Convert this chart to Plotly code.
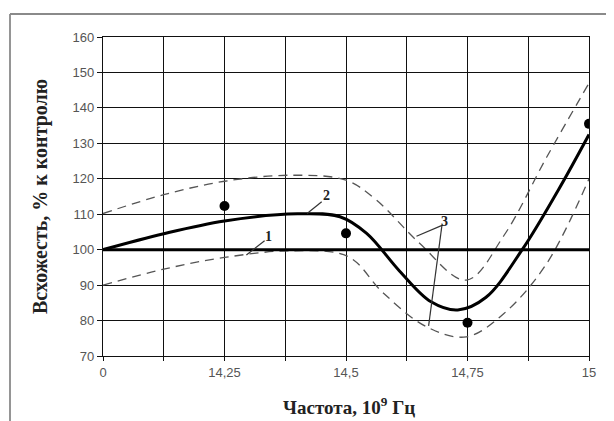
import plotly.graph_objects as go

# x positions are index units: 0 -> "0", 1 -> "14,25", 2 -> "14,5", 3 -> "14,75", 4 -> "15"
tick_vals = [0, 0.5, 1, 1.5, 2, 2.5, 3, 3.5, 4]
tick_text = ["0", "", "14,25", "", "14,5", "", "14,75", "", "15"]

# line 1: control
control_x = [0, 4]
control_y = [100, 100]

# line 2: fitted curve
curve_x = [0, 0.5, 1.0, 1.6, 1.95, 2.17, 2.44, 2.7, 2.92, 3.15, 3.45, 3.75, 4.0]
curve_y = [100, 104.5, 108.1, 110.1, 109.3, 104.6, 94.0, 85.3, 83.0, 86.5, 100, 117, 132.5]

# lines 3: confidence band
upper_x = [0, 0.5, 1.0, 1.55, 2.0, 2.25, 2.6, 2.99, 3.3, 3.65, 4.0]
upper_y = [110.2, 115.5, 119.3, 121, 119.6, 114, 102, 91.4, 104, 126, 147]
lower_x = [0, 0.5, 1.0, 1.56, 2.02, 2.3, 2.66, 2.99, 3.3, 3.65, 4.0]
lower_y = [90, 94.5, 97.8, 99.7, 98, 88, 78.3, 75.4, 82, 96, 120]

# experimental points
points_x = [1, 2, 3, 4]
points_y = [112.3, 104.6, 79.4, 135.5]

fig = go.Figure()
fig.add_trace(go.Scatter(x=upper_x, y=upper_y, mode="lines", line_shape="spline",
                         line=dict(color="#555555", width=1.3, dash="9px,6px"), showlegend=False))
fig.add_trace(go.Scatter(x=lower_x, y=lower_y, mode="lines", line_shape="spline",
                         line=dict(color="#555555", width=1.3, dash="9px,6px"), showlegend=False))
fig.add_trace(go.Scatter(x=control_x, y=control_y, mode="lines",
                         line=dict(color="black", width=3), showlegend=False))
fig.add_trace(go.Scatter(x=curve_x, y=curve_y, mode="lines", line_shape="spline",
                         line=dict(color="black", width=3), showlegend=False))
fig.add_trace(go.Scatter(x=points_x, y=points_y, mode="markers", cliponaxis=True,
                         marker=dict(color="black", size=10, symbol="circle",
                                     line=dict(width=0)), showlegend=False))

# label leaders
leader_color = "#333333"
leaders = [
    ((1.18, 98.5), (1.33, 102.5)),
    ((1.68, 110.2), (1.80, 113.5)),
    ((2.58, 103.8), (2.80, 107.0)),
    ((2.68, 78.5), (2.79, 107.0)),
]
shapes = []
for (x0, y0), (x1, y1) in leaders:
    shapes.append(dict(type="line", xref="x", yref="y", x0=x0, y0=y0, x1=x1, y1=y1,
                       line=dict(color=leader_color, width=1.2)))

# page is offset by the 8px body margin; work in page pixels and subtract it
OFF = 8
FW, FH = 614 - OFF, 421 - OFF
L, T = 103 - OFF, 37 - OFF
R = FW - (589 - OFF)
B = FH - (356 - OFF)
W, H = FW - L - R, FH - T - B

def px_x(p):
    return (p - OFF - L) / W

def px_y(p):
    return 1 - (p - OFF - T) / H

fx = px_x(10)
fy = px_y(14)
shapes.append(dict(type="line", xref="paper", yref="paper", x0=fx, y0=-0.5, x1=fx, y1=fy,
                   line=dict(color="#8a8a8a", width=1.8)))
shapes.append(dict(type="line", xref="paper", yref="paper", x0=fx, y0=fy, x1=1.3, y1=fy,
                   line=dict(color="#8a8a8a", width=1.8)))

serif = "Liberation Serif"
annotations = [
    dict(x=1.36, y=103.6, text="<b>1</b>", showarrow=False, xref="x", yref="y",
         font=dict(family=serif, size=14, color="#222")),
    dict(x=1.84, y=115.2, text="<b>2</b>", showarrow=False, xref="x", yref="y",
         font=dict(family=serif, size=14, color="#222")),
    dict(x=2.81, y=108.0, text="<b>3</b>", showarrow=False, xref="x", yref="y",
         font=dict(family=serif, size=14, color="#222")),
    # axis titles
    dict(x=px_x(41), y=px_y(197), xref="paper", yref="paper",
         text="<b>Всхожесть, % к контролю</b>", textangle=-90, showarrow=False,
         xanchor="center", yanchor="middle",
         font=dict(family=serif, size=20, color="#222")),
    dict(x=px_x(349), y=px_y(406), xref="paper", yref="paper",
         text="<b>Частота, 10<sup>9</sup> Гц</b>", showarrow=False,
         xanchor="center", yanchor="middle",
         font=dict(family=serif, size=19, color="#222")),
]

fig.update_layout(
    width=FW, height=FH,
    margin=dict(l=L, r=R, t=T, b=B, autoexpand=False),
    paper_bgcolor="white", plot_bgcolor="white",
    shapes=shapes, annotations=annotations,
    font=dict(family="Liberation Sans", size=11, color="#444"),
    xaxis=dict(range=[0, 4], tickvals=tick_vals, ticktext=tick_text, automargin=False,
               showgrid=True, gridcolor="#111", gridwidth=1.2,
               showline=True, linecolor="#111", linewidth=1.2, mirror=True,
               ticks="outside", ticklen=4, tickcolor="#111", zeroline=False,
               tickfont=dict(family="Liberation Sans", size=13, color="#555")),
    yaxis=dict(range=[70, 160], dtick=10, tick0=70, automargin=False,
               showgrid=True, gridcolor="#111", gridwidth=1.2,
               showline=True, linecolor="#111", linewidth=1.2, mirror=True,
               ticks="outside", ticklen=5, tickcolor="#111", zeroline=False,
               tickfont=dict(family="Liberation Sans", size=13, color="#555")),
)

fig.write_html("out.html")
